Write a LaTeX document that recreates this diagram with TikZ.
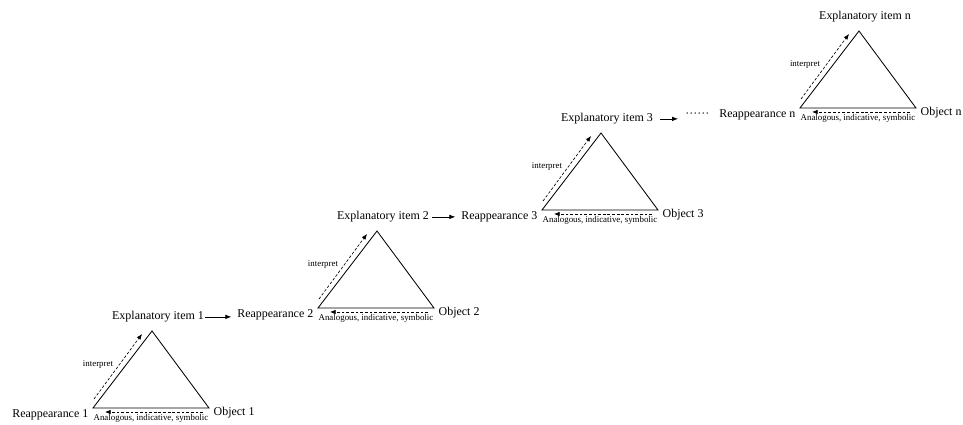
\documentclass[tikz,border=0pt]{standalone}
\usepackage{fontspec}
\setmainfont{Liberation Serif}
\usetikzlibrary{arrows.meta,positioning,calc}

\begin{document}
\begin{tikzpicture}[x=0.025cm,y=-0.025cm,
  lbl/.style={font=\fontsize{8.5}{10}\selectfont,inner sep=1pt},
  tiny/.style={font=\fontsize{6.3}{7}\selectfont,inner sep=0pt},
  tri/.style={draw,line width=0.6pt},
  arr/.style={-{Latex[length=1.5mm,width=1.1mm]},line width=0.45pt},
  darr/.style={-{Latex[length=1.4mm,width=1.1mm]},dash pattern=on 2pt off 1.3pt,line width=0.45pt}
]
  \useasboundingbox (0,0) rectangle (963,425);
  % one triangle per step
  \foreach \k/\x/\y in {1/93/408,2/318/308,3/542/210,n/800/108}{
    \coordinate (L\k) at (\x,\y);
    \coordinate (R\k) at (\x+116,\y);
    \coordinate (A\k) at (\x+59,\y-77);
    \draw[tri] (L\k) -- (A\k) -- (R\k) -- cycle;
    \node[lbl,anchor=east] (rep\k) at ($(L\k)+(-3,7)$) {Reappearance \k};
    \node[lbl,anchor=west] (obj\k) at ($(R\k)+(3,5)$) {Object \k};
    \node[lbl,anchor=south] (exp\k) at ($(A\k)+(6,-7)$) {Explanatory item \k};
    \node[tiny] (ana\k) at ($(L\k)+(58,10)$) {Analogous, indicative, symbolic};
    \node[tiny] (int\k) at ($(L\k)+(5,-43)$) {interpret};
    \coordinate (bs\k) at ($(L\k)+(110,4)$);
    \coordinate (be\k) at ($(L\k)+(12,4)$);
    \coordinate (ls\k) at ($(L\k)+(1,-9)$);
    \coordinate (le\k) at ($(L\k)+(49,-74)$);
    \draw[darr] (bs\k) -- (be\k);
    \draw[darr] (ls\k) -- (le\k);
  }
  % links between steps
  \draw[arr,shorten >=3pt] (exp1.east) -- (exp1.east -| rep2.west);
  \draw[arr,shorten <=1pt,shorten >=3pt] (exp2.east) -- (exp2.east -| rep3.west);
  \node[lbl,inner sep=0pt,anchor=east] (dots) at ($(repn.west)+(-8,0)$) {\textperiodcentered\textperiodcentered\textperiodcentered\textperiodcentered\textperiodcentered\textperiodcentered};
  \draw[arr,shorten <=4pt,shorten >=5pt] (exp3.east) -- (exp3.east -| dots.west);
\end{tikzpicture}
\end{document}
